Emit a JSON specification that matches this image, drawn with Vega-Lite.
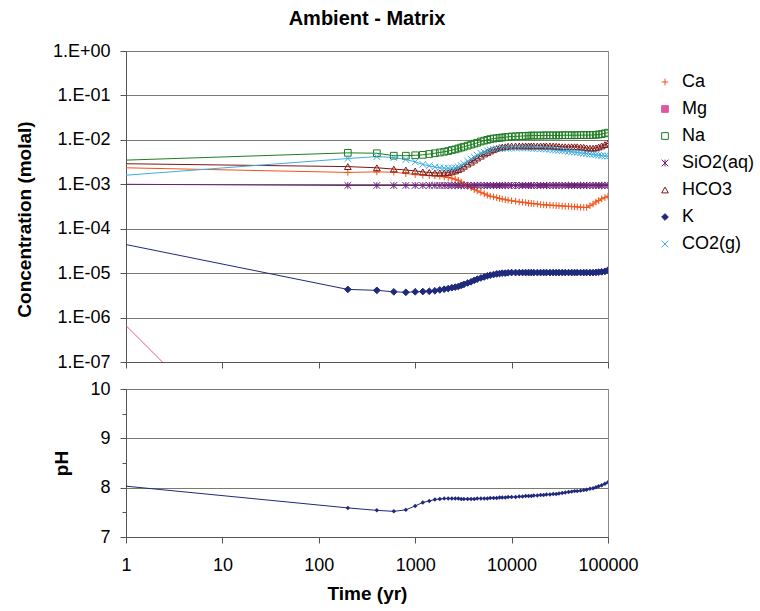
{
  "$schema": "https://vega.github.io/schema/vega-lite/v6.json",
  "padding": {"left": 14, "top": 8, "right": 5, "bottom": 5},
  "background": "white",
  "bounds": "flush",
  "spacing": 27,
  "config": {
    "font": "Liberation Sans",
    "view": {"stroke": "#888888", "strokeWidth": 1},
    "axis": {
      "labelFont": "Liberation Sans", "titleFont": "Liberation Sans",
      "labelFontSize": 18, "titleFontSize": 19, "titleFontWeight": "bold",
      "labelColor": "#000000", "titleColor": "#000000",
      "domainColor": "#555555", "tickColor": "#555555", "gridColor": "#7a7a70",
      "gridOpacity": 1, "tickSize": 6, "labelFlush": false
    },
    "legend": {"labelFont": "Liberation Sans", "labelFontSize": 18, "labelColor": "#000000"}
  },
  "datasets": {
    "sim": [
      {"t":1,"Ca":0.00235,"Mg":6.6e-7,"Na":0.0035,"SiO2(aq)":0.001,"HCO3":0.0029,"K":4.4e-5,"CO2(g)":0.0016,"pH":8.03},
      {"t":200,"Ca":0.00185,"Mg":6.8e-12,"Na":0.0051,"SiO2(aq)":0.00094,"HCO3":0.0025,"K":4.3e-6,"CO2(g)":0.0038,"pH":7.59},
      {"t":400,"Ca":0.0019,"Na":0.005,"SiO2(aq)":0.00094,"HCO3":0.00235,"K":4.1e-6,"CO2(g)":0.0042,"pH":7.54},
      {"t":600,"Ca":0.00187,"Na":0.0044,"SiO2(aq)":0.00094,"HCO3":0.0022,"K":3.8e-6,"CO2(g)":0.004,"pH":7.52},
      {"t":800,"Ca":0.00175,"Na":0.0044,"SiO2(aq)":0.00094,"HCO3":0.0021,"K":3.7e-6,"CO2(g)":0.0036,"pH":7.55},
      {"t":1000,"Ca":0.00165,"Na":0.0045,"SiO2(aq)":0.00094,"HCO3":0.002,"K":3.8e-6,"CO2(g)":0.0032,"pH":7.63},
      {"t":1200,"Ca":0.0016,"Na":0.0046,"SiO2(aq)":0.00094,"HCO3":0.0019,"K":3.85e-6,"CO2(g)":0.0028,"pH":7.70},
      {"t":1400,"Ca":0.00157,"Na":0.0048,"SiO2(aq)":0.00094,"HCO3":0.00185,"K":3.9e-6,"CO2(g)":0.0026,"pH":7.73},
      {"t":1600,"Ca":0.00155,"Na":0.005,"SiO2(aq)":0.00094,"HCO3":0.0018,"K":4.0e-6,"CO2(g)":0.00245,"pH":7.76},
      {"t":1800,"Ca":0.00152,"Na":0.0052,"SiO2(aq)":0.00094,"HCO3":0.0018,"K":4.2e-6,"CO2(g)":0.00235,"pH":7.77},
      {"t":2000,"Ca":0.00147,"Na":0.0054,"SiO2(aq)":0.00094,"HCO3":0.0018,"K":4.35e-6,"CO2(g)":0.0023,"pH":7.78},
      {"t":2200,"Ca":0.00142,"Na":0.0056,"SiO2(aq)":0.00094,"HCO3":0.00182,"K":4.5e-6,"CO2(g)":0.0023,"pH":7.78},
      {"t":2400,"Ca":0.00137,"Na":0.0059,"SiO2(aq)":0.00094,"HCO3":0.0019,"K":4.7e-6,"CO2(g)":0.0023,"pH":7.78},
      {"t":2600,"Ca":0.0013,"Na":0.0061,"SiO2(aq)":0.00094,"HCO3":0.002,"K":4.85e-6,"CO2(g)":0.00235,"pH":7.78},
      {"t":2800,"Ca":0.00123,"Na":0.0064,"SiO2(aq)":0.00094,"HCO3":0.00215,"K":5.0e-6,"CO2(g)":0.00245,"pH":7.78},
      {"t":3000,"Ca":0.00112,"Na":0.0067,"SiO2(aq)":0.00094,"HCO3":0.0023,"K":5.3e-6,"CO2(g)":0.00265,"pH":7.77},
      {"t":3200,"Ca":0.001,"Na":0.007,"SiO2(aq)":0.00094,"HCO3":0.00255,"K":5.6e-6,"CO2(g)":0.0029,"pH":7.77},
      {"t":3500,"Ca":0.0009,"Na":0.0074,"SiO2(aq)":0.00094,"HCO3":0.00285,"K":6.0e-6,"CO2(g)":0.0033,"pH":7.77},
      {"t":3800,"Ca":0.00084,"Na":0.0078,"SiO2(aq)":0.00094,"HCO3":0.00315,"K":6.4e-6,"CO2(g)":0.0037,"pH":7.77},
      {"t":4100,"Ca":0.00076,"Na":0.0082,"SiO2(aq)":0.00094,"HCO3":0.0035,"K":6.9e-6,"CO2(g)":0.0041,"pH":7.77},
      {"t":4400,"Ca":0.00071,"Na":0.0086,"SiO2(aq)":0.00094,"HCO3":0.0039,"K":7.3e-6,"CO2(g)":0.0045,"pH":7.78},
      {"t":4800,"Ca":0.00066,"Na":0.0092,"SiO2(aq)":0.00094,"HCO3":0.0043,"K":7.8e-6,"CO2(g)":0.005,"pH":7.78},
      {"t":5200,"Ca":0.00061,"Na":0.0096,"SiO2(aq)":0.00094,"HCO3":0.0048,"K":8.2e-6,"CO2(g)":0.0053,"pH":7.78},
      {"t":5600,"Ca":0.00057,"Na":0.01,"SiO2(aq)":0.00094,"HCO3":0.0052,"K":8.7e-6,"CO2(g)":0.0057,"pH":7.78},
      {"t":6000,"Ca":0.00054,"Na":0.0104,"SiO2(aq)":0.00094,"HCO3":0.0056,"K":9.0e-6,"CO2(g)":0.0059,"pH":7.79},
      {"t":6500,"Ca":0.00052,"Na":0.0107,"SiO2(aq)":0.00094,"HCO3":0.006,"K":9.3e-6,"CO2(g)":0.0061,"pH":7.79},
      {"t":7000,"Ca":0.0005,"Na":0.0109,"SiO2(aq)":0.00094,"HCO3":0.0064,"K":9.6e-6,"CO2(g)":0.0063,"pH":7.79},
      {"t":7500,"Ca":0.00048,"Na":0.0111,"SiO2(aq)":0.00094,"HCO3":0.0067,"K":9.8e-6,"CO2(g)":0.0064,"pH":7.80},
      {"t":8000,"Ca":0.000465,"Na":0.0113,"SiO2(aq)":0.00094,"HCO3":0.0069,"K":1.0e-5,"CO2(g)":0.0065,"pH":7.80},
      {"t":8600,"Ca":0.00045,"Na":0.0115,"SiO2(aq)":0.00094,"HCO3":0.007,"K":1.0e-5,"CO2(g)":0.0065,"pH":7.80},
      {"t":9200,"Ca":0.00044,"Na":0.0117,"SiO2(aq)":0.00094,"HCO3":0.0072,"K":1.02e-5,"CO2(g)":0.0065,"pH":7.81},
      {"t":10000,"Ca":0.000425,"Na":0.0119,"SiO2(aq)":0.00094,"HCO3":0.0073,"K":1.03e-5,"CO2(g)":0.0066,"pH":7.81},
      {"t":11000,"Ca":0.000415,"Na":0.012,"SiO2(aq)":0.00094,"HCO3":0.0073,"K":1.03e-5,"CO2(g)":0.0066,"pH":7.81},
      {"t":12000,"Ca":0.0004,"Na":0.0121,"SiO2(aq)":0.00094,"HCO3":0.0073,"K":1.03e-5,"CO2(g)":0.0066,"pH":7.82},
      {"t":13000,"Ca":0.000395,"Na":0.0122,"SiO2(aq)":0.00094,"HCO3":0.0073,"K":1.03e-5,"CO2(g)":0.0066,"pH":7.82},
      {"t":14000,"Ca":0.000385,"Na":0.0123,"SiO2(aq)":0.00094,"HCO3":0.0073,"K":1.03e-5,"CO2(g)":0.0066,"pH":7.83},
      {"t":15000,"Ca":0.000375,"Na":0.0124,"SiO2(aq)":0.00094,"HCO3":0.0073,"K":1.03e-5,"CO2(g)":0.0066,"pH":7.83},
      {"t":16000,"Ca":0.00037,"Na":0.0125,"SiO2(aq)":0.00094,"HCO3":0.0073,"K":1.03e-5,"CO2(g)":0.0065,"pH":7.83},
      {"t":17000,"Ca":0.000365,"Na":0.0125,"SiO2(aq)":0.00094,"HCO3":0.0073,"K":1.03e-5,"CO2(g)":0.0064,"pH":7.84},
      {"t":18500,"Ca":0.00036,"Na":0.0125,"SiO2(aq)":0.00094,"HCO3":0.0073,"K":1.03e-5,"CO2(g)":0.0064,"pH":7.84},
      {"t":20000,"Ca":0.00035,"Na":0.0125,"SiO2(aq)":0.00094,"HCO3":0.0073,"K":1.03e-5,"CO2(g)":0.0063,"pH":7.85},
      {"t":21500,"Ca":0.000345,"Na":0.0126,"SiO2(aq)":0.00094,"HCO3":0.0073,"K":1.03e-5,"CO2(g)":0.0063,"pH":7.85},
      {"t":23000,"Ca":0.000342,"Na":0.0126,"SiO2(aq)":0.00094,"HCO3":0.0073,"K":1.03e-5,"CO2(g)":0.0062,"pH":7.86},
      {"t":25000,"Ca":0.00034,"Na":0.0126,"SiO2(aq)":0.00094,"HCO3":0.0073,"K":1.03e-5,"CO2(g)":0.0061,"pH":7.86},
      {"t":27000,"Ca":0.000335,"Na":0.0126,"SiO2(aq)":0.00094,"HCO3":0.0073,"K":1.03e-5,"CO2(g)":0.006,"pH":7.87},
      {"t":29000,"Ca":0.00033,"Na":0.0126,"SiO2(aq)":0.00094,"HCO3":0.0072,"K":1.03e-5,"CO2(g)":0.0059,"pH":7.87},
      {"t":31000,"Ca":0.00033,"Na":0.0126,"SiO2(aq)":0.00094,"HCO3":0.0071,"K":1.03e-5,"CO2(g)":0.0058,"pH":7.88},
      {"t":33500,"Ca":0.000325,"Na":0.0127,"SiO2(aq)":0.00094,"HCO3":0.007,"K":1.03e-5,"CO2(g)":0.0057,"pH":7.89},
      {"t":36000,"Ca":0.00032,"Na":0.0127,"SiO2(aq)":0.00094,"HCO3":0.007,"K":1.03e-5,"CO2(g)":0.0056,"pH":7.90},
      {"t":39000,"Ca":0.00032,"Na":0.0127,"SiO2(aq)":0.00094,"HCO3":0.007,"K":1.03e-5,"CO2(g)":0.0055,"pH":7.91},
      {"t":42000,"Ca":0.000315,"Na":0.0127,"SiO2(aq)":0.00094,"HCO3":0.007,"K":1.03e-5,"CO2(g)":0.0054,"pH":7.92},
      {"t":45000,"Ca":0.000312,"Na":0.0127,"SiO2(aq)":0.00094,"HCO3":0.007,"K":1.03e-5,"CO2(g)":0.0053,"pH":7.93},
      {"t":48000,"Ca":0.00031,"Na":0.0127,"SiO2(aq)":0.00094,"HCO3":0.007,"K":1.03e-5,"CO2(g)":0.0052,"pH":7.93},
      {"t":52000,"Ca":0.000305,"Na":0.0128,"SiO2(aq)":0.00094,"HCO3":0.0069,"K":1.03e-5,"CO2(g)":0.0051,"pH":7.94},
      {"t":56000,"Ca":0.000303,"Na":0.0128,"SiO2(aq)":0.00094,"HCO3":0.0068,"K":1.03e-5,"CO2(g)":0.005,"pH":7.95},
      {"t":60000,"Ca":0.0003,"Na":0.0128,"SiO2(aq)":0.00094,"HCO3":0.0066,"K":1.03e-5,"CO2(g)":0.0049,"pH":7.96},
      {"t":65000,"Ca":0.00033,"Na":0.0128,"SiO2(aq)":0.00094,"HCO3":0.0065,"K":1.03e-5,"CO2(g)":0.0048,"pH":7.98},
      {"t":70000,"Ca":0.00036,"Na":0.0129,"SiO2(aq)":0.00094,"HCO3":0.0065,"K":1.03e-5,"CO2(g)":0.0047,"pH":7.99},
      {"t":75000,"Ca":0.0004,"Na":0.013,"SiO2(aq)":0.00094,"HCO3":0.0066,"K":1.04e-5,"CO2(g)":0.0046,"pH":8.01},
      {"t":80000,"Ca":0.00043,"Na":0.0132,"SiO2(aq)":0.00094,"HCO3":0.0069,"K":1.05e-5,"CO2(g)":0.0045,"pH":8.03},
      {"t":86000,"Ca":0.00047,"Na":0.0135,"SiO2(aq)":0.00094,"HCO3":0.0073,"K":1.07e-5,"CO2(g)":0.0044,"pH":8.05},
      {"t":93000,"Ca":0.0005,"Na":0.014,"SiO2(aq)":0.00094,"HCO3":0.0078,"K":1.1e-5,"CO2(g)":0.00435,"pH":8.08},
      {"t":100000,"Ca":0.00054,"Na":0.0145,"SiO2(aq)":0.00094,"HCO3":0.0084,"K":1.17e-5,"CO2(g)":0.0043,"pH":8.11}
    ]
  },
  "data": {"name": "sim"},
  "vconcat": [
    {
      "title": {"text": "Ambient - Matrix", "fontSize": 20, "font": "Liberation Sans", "fontWeight": "bold", "color": "#000000", "anchor": "middle", "offset": 13},
      "width": 482,
      "height": 311,
      "transform": [
        {"fold": ["Ca", "Mg", "Na", "SiO2(aq)", "HCO3", "K", "CO2(g)"], "as": ["series", "value"]},
        {"filter": "isValid(datum.value)"}
      ],
      "encoding": {
        "x": {"field": "t", "type": "quantitative",
          "scale": {"type": "log", "domain": [1, 100000], "nice": false},
          "axis": {"values": [1, 10, 100, 1000, 10000, 100000], "labels": false, "grid": false, "title": null, "tickSize": 6}},
        "y": {"field": "value", "type": "quantitative",
          "scale": {"type": "log", "domain": [1e-7, 1], "nice": false},
          "axis": {"values": [1e-7, 1e-6, 1e-5, 1e-4, 1e-3, 1e-2, 1e-1, 1],
            "labelExpr": "datum.value >= 0.5 ? '1.E+00' : '1.E-0' + round(-log(datum.value)/LN10)",
            "title": "Concentration (molal)", "titlePadding": 18, "labelPadding": 10, "grid": true, "tickSize": 6, "titleY": 168}},
        "color": {"field": "series", "type": "nominal",
          "scale": {"domain": ["Ca", "Mg", "Na", "SiO2(aq)", "HCO3", "K", "CO2(g)"],
            "range": ["#f2541b", "#e0569f", "#1e7d22", "#6b1e78", "#7d1717", "#1f2a7a", "#3aaee0"]},
          "legend": {"title": null, "orient": "none", "legendX": 530, "legendY": 22,
            "symbolSize": 45, "labelOffset": 8, "rowPadding": 9, "symbolStrokeWidth": 1}
        }
      },
      "layer": [
        {"mark": {"type": "line", "strokeWidth": 1, "clip": true}},
        {"transform": [{"filter": "datum.t > 1"}],
          "mark": {"type": "point", "filled": false, "size": 45, "strokeWidth": 1, "clip": true, "opacity": 1},
          "encoding": {
            "shape": {"field": "series", "type": "nominal", "legend": null,
              "scale": {"domain": ["Ca", "Mg", "Na", "SiO2(aq)", "HCO3", "K", "CO2(g)"],
                "range": ["M-1,0L1,0M0,-1L0,1", "square", "square", "M-1,-1L1,1M-1,1L1,-1M0,-1L0,1", "triangle-up", "diamond", "M-1,-1L1,1M-1,1L1,-1"]}},
            "fill": {"field": "series", "type": "nominal", "legend": null,
              "scale": {"domain": ["Ca", "Mg", "Na", "SiO2(aq)", "HCO3", "K", "CO2(g)"],
                "range": ["transparent", "#e0569f", "transparent", "transparent", "transparent", "#1f2a7a", "transparent"]}}
          }}
      ]
    },
    {
      "width": 482,
      "height": 148,
      "transform": [{"filter": "isValid(datum.pH)"}],
      "encoding": {
        "x": {"field": "t", "type": "quantitative",
          "scale": {"type": "log", "domain": [1, 100000], "nice": false},
          "axis": {"values": [1, 10, 100, 1000, 10000, 100000], "format": "d", "grid": false, "title": "Time (yr)", "tickSize": 6, "labelPadding": 13, "titlePadding": 10}},
        "y": {"field": "pH", "type": "quantitative",
          "scale": {"domain": [7, 10], "nice": false},
          "axis": {"values": [7, 7.5, 8, 8.5, 9, 9.5, 10],
            "labelExpr": "datum.value % 1 === 0 ? format(datum.value, 'd') : ''",
            "gridOpacity": {"condition": {"test": "datum.value % 1 !== 0", "value": 0}, "value": 1},
            "tickSize": {"condition": {"test": "datum.value % 1 !== 0", "value": 4}, "value": 6},
            "title": "pH", "titlePadding": 18, "labelPadding": 10, "grid": true}}
      },
      "layer": [
        {"mark": {"type": "line", "strokeWidth": 1, "color": "#1f2a7a", "clip": true}},
        {"transform": [{"filter": "datum.t > 1"}],
          "mark": {"type": "point", "shape": "diamond", "filled": true, "size": 20, "color": "#1f2a7a", "opacity": 1, "clip": true}}
      ]
    }
  ]
}
